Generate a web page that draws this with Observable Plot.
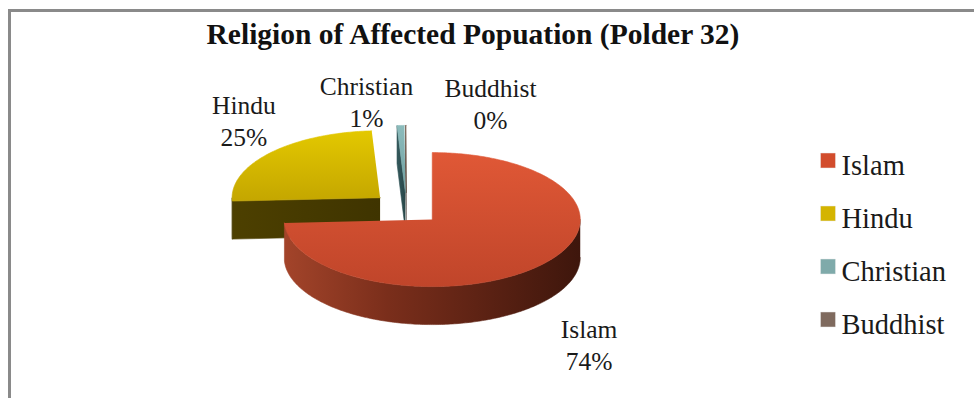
<!DOCTYPE html>
<html>
<head>
<meta charset="utf-8">
<script src="https://cdn.jsdelivr.net/npm/d3@7"></script>
<script src="https://cdn.jsdelivr.net/npm/@observablehq/plot@0.6"></script>
<style>
  body { margin: 0; background: #fff; }
  #wrap { position: relative; width: 974px; height: 398px; overflow: hidden; font-family: "Liberation Serif", "Times New Roman", serif; background: #fff; }
  #frame { position: absolute; left: 8px; top: 9px; width: 1200px; height: 600px; border-left: 3px solid #8a8a8a; border-top: 3px solid #8a8a8a; box-sizing: border-box; }
  #title { position: absolute; left: 0; width: 946px; top: 20px; text-align: center; font-weight: bold; font-size: 29.5px; line-height: 29.5px; color: #111; white-space: nowrap; }
  .layer { position: absolute; left: 0; top: 0; }
</style>
</head>
<body>
<div id="wrap">
  <div id="frame"></div>
  <div id="title">Religion of Affected Popuation (Polder 32)</div>
  <div id="pie" class="layer"></div>
  <div id="legend" class="layer"></div>
</div>
<script>
// ---- data ----
const categories = ["Islam", "Hindu", "Christian", "Buddhist"];
const shares = [74.2, 24.9, 0.8, 0.1];
const percentLabels = ["74%", "25%", "1%", "0%"];

// ---- styling / layout ----
const W = 974, H = 398;
const CX = 406, CY = 208, RX = 148, RY = 67, DEPTH = 38, EXPLODE = 0.24;
const topFill = ["url(#islamTop)", "url(#hinduTop)", "url(#christTop)", "url(#buddTop)"];
const sideFill = ["url(#islamSide)", "url(#hinduSide)", "url(#christSide)", "url(#buddSide)"];
const legendColors = ["#d24c2c", "#d4b400", "#7faaaa", "#7f6a5e"];
const labelNudge = [[49.6, 77.7], [-26, -33.5], [-34.3, -24.4], [84.6, -22.9]];

const rows = categories.map((c, i) => ({category: c, share: shares[i], label: percentLabels[i], i}));
const arcs = d3.pie().sort(null).value(d => d.share)(rows);
const dz = DEPTH / RY;

function arcPts(ox, oy, a, b, off) {
  const n = Math.max(2, Math.ceil((b - a) / 0.015));
  const pts = [];
  for (let k = 0; k <= n; k++) {
    const t = a + (b - a) * k / n;
    pts.push({x: ox + Math.sin(t), y: oy - Math.cos(t) + off});
  }
  return pts;
}

const slices = arcs.map(arc => {
  const a0 = arc.startAngle, a1 = arc.endAngle, mid = (a0 + a1) / 2;
  const ox = EXPLODE * Math.sin(mid), oy = -EXPLODE * Math.cos(mid);
  const i = arc.data.i;
  const polys = [];
  const face = a => [
    {x: ox, y: oy}, {x: ox + Math.sin(a), y: oy - Math.cos(a)},
    {x: ox + Math.sin(a), y: oy - Math.cos(a) + dz}, {x: ox, y: oy + dz}
  ];
  if (-Math.sin(a0) > 0.001) polys.push({pts: face(a0), fill: sideFill[i]});
  if (Math.sin(a1) > 0.001) polys.push({pts: face(a1), fill: sideFill[i]});
  const s = Math.max(a0, Math.PI / 2), e = Math.min(a1, 3 * Math.PI / 2);
  if (e > s) {
    polys.push({pts: arcPts(ox, oy, s, e, 0).concat(arcPts(ox, oy, s, e, dz).reverse()), fill: sideFill[i]});
  }
  polys.push({pts: [{x: ox, y: oy}, ...arcPts(ox, oy, a0, a1, 0)], fill: topFill[i]});
  const lx = ox + Math.sin(mid) + labelNudge[i][0] / RX;
  const ly = oy - Math.cos(mid) + labelNudge[i][1] / RY;
  return {oy, polys, label: {x: lx, y: ly, text: arc.data.category + "\n" + arc.data.label}};
});

const order = slices.slice().sort((a, b) => a.oy - b.oy);
const marks = [];
for (const sl of order) for (const p of sl.polys) {
  marks.push(Plot.line(p.pts, {x: "x", y: "y", fill: p.fill, stroke: p.fill, strokeWidth: 0.6}));
}
marks.push(Plot.text(slices.map(s => s.label), {
  x: "x", y: "y", text: "text", fontSize: 25.5, fontFamily: "Liberation Serif",
  fill: "#1a1a1a", lineHeight: 1.25, textAnchor: "middle"
}));

const piePlot = Plot.plot({
  width: W, height: H, margin: 0,
  x: {domain: [-CX / RX, (W - CX) / RX], range: [0, W], axis: null},
  y: {domain: [-CY / RY, (H - CY) / RY], range: [0, H], axis: null},
  style: {background: "transparent", overflow: "visible"},
  marks
});

d3.select(piePlot).insert("defs", ":first-child").html(`
  <linearGradient id="islamTop" x1="0" y1="0" x2="0" y2="1">
    <stop offset="0" stop-color="#e05836"/><stop offset="1" stop-color="#c0452a"/>
  </linearGradient>
  <linearGradient id="islamSide" x1="0" y1="0" x2="1" y2="0">
    <stop offset="0" stop-color="#a3442a"/><stop offset="0.35" stop-color="#7a2e1b"/><stop offset="1" stop-color="#3e160c"/>
  </linearGradient>
  <linearGradient id="hinduTop" x1="0" y1="0" x2="0" y2="1">
    <stop offset="0" stop-color="#e3c800"/><stop offset="1" stop-color="#c4a600"/>
  </linearGradient>
  <linearGradient id="hinduSide" x1="0" y1="0" x2="1" y2="0">
    <stop offset="0" stop-color="#4d4000"/><stop offset="1" stop-color="#3f3400"/>
  </linearGradient>
  <linearGradient id="christTop" x1="0" y1="0" x2="0" y2="1">
    <stop offset="0" stop-color="#8cbcbc"/><stop offset="1" stop-color="#6f9fa0"/>
  </linearGradient>
  <linearGradient id="christSide" x1="0" y1="0" x2="1" y2="0">
    <stop offset="0" stop-color="#34595c"/><stop offset="1" stop-color="#284648"/>
  </linearGradient>
  <linearGradient id="buddTop" x1="0" y1="0" x2="0" y2="1">
    <stop offset="0" stop-color="#8a7466"/><stop offset="1" stop-color="#74604f"/>
  </linearGradient>
  <linearGradient id="buddSide" x1="0" y1="0" x2="1" y2="0">
    <stop offset="0" stop-color="#4a3a32"/><stop offset="1" stop-color="#3a2d26"/>
  </linearGradient>
`);
document.getElementById("pie").append(piePlot);

// ---- legend ----
const legendPlot = Plot.plot({
  width: W, height: H, margin: 0,
  x: {domain: [0, W], range: [0, W], axis: null},
  y: {type: "point", domain: categories, range: [159.5, 320], padding: 0, axis: null},
  style: {background: "transparent", overflow: "visible"},
  marks: [
    Plot.dot(categories, {y: d => d, frameAnchor: "left", dx: 827.5, symbol: "square",
      r: 15 / Math.sqrt(Math.PI), fill: (d, i) => legendColors[i], stroke: "#e8e8e8", strokeWidth: 0.5}),
    Plot.text(categories, {y: d => d, frameAnchor: "left", dx: 841, dy: 5, text: d => d,
      textAnchor: "start", fontSize: 28.5, fontFamily: "Liberation Serif", fill: "#1a1a1a"})
  ]
});
document.getElementById("legend").append(legendPlot);
</script>
</body>
</html>
